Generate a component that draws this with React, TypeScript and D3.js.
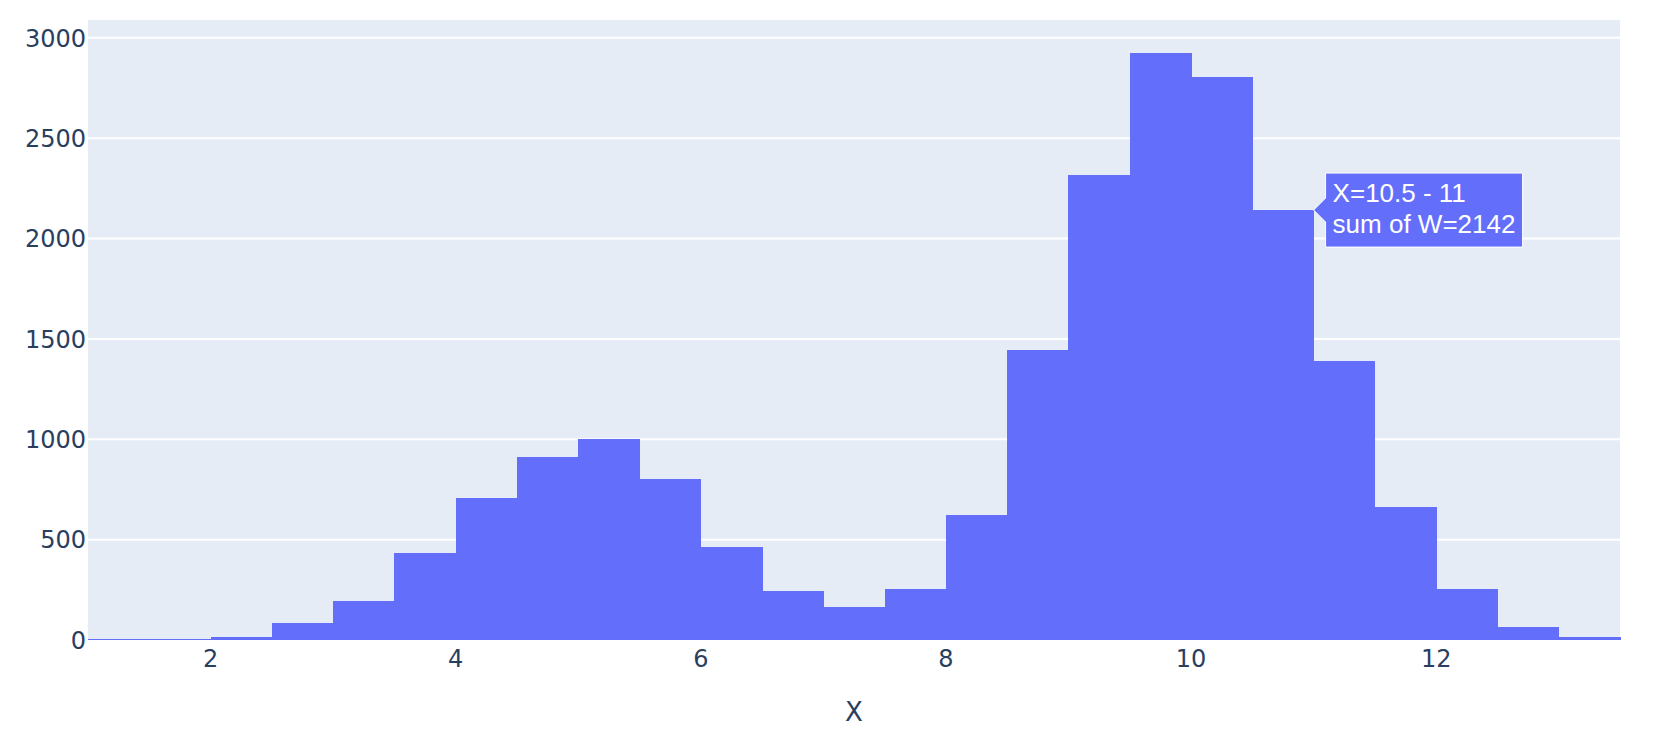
import * as d3 from "d3";
import React from "react";

// histogram bins (left edge), bin width 0.5
const binStarts = [1, 1.5, 2, 2.5, 3, 3.5, 4, 4.5, 5, 5.5, 6, 6.5, 7, 7.5, 8, 8.5, 9, 9.5, 10, 10.5, 11, 11.5, 12, 12.5, 13];
const binWidth = 0.5;
const sumOfW = [6, 7, 15, 85, 195, 432, 706, 911, 1002, 804, 463, 244, 164, 254, 623, 1443, 2317, 2925, 2805, 2142, 1390, 665, 255, 65, 15];

const xTicks = [2, 4, 6, 8, 10, 12];
const yTicks = [0, 500, 1000, 1500, 2000, 2500, 3000];

const hoverBin = 19;

const width = 1676;
const height = 736;
const plot = { left: 88, right: 1620, top: 20, bottom: 640 };

const tickFont = "'DejaVu Sans', Verdana, sans-serif";
const inkColor = "#2a3f5f";
const barColor = "#636efa";

const App: React.FC = () => {
    const x = d3.scaleLinear().domain([1, 13.5]).range([plot.left, plot.right]);
    const y = d3.scaleLinear().domain([0, 3089]).range([plot.bottom, plot.top]);

    const tx = x(binStarts[hoverBin] + binWidth);
    const ty = y(sumOfW[hoverBin]);
    const boxL = tx + 12;
    const boxR = boxL + 197;
    const boxT = ty - 37;
    const boxB = ty + 37;
    const tip = `M${tx},${ty} L${boxL},${ty - 12} V${boxT} H${boxR} V${boxB} H${boxL} V${ty + 12} Z`;

    return (
        <svg width={width} height={height} style={{ position: "absolute", left: 0, top: 0, background: "white" }}>
            <rect x={plot.left} y={plot.top} width={plot.right - plot.left} height={plot.bottom - plot.top} fill="#e5ecf6" />
            {yTicks.map(t => (
                <line key={"g" + t} x1={plot.left} x2={plot.right} y1={y(t)} y2={y(t)} stroke="white" strokeWidth={2} />
            ))}
            <g shapeRendering="crispEdges">
                {binStarts.map((b, i) => (
                    <rect key={b} x={x(b)} y={y(sumOfW[i])} width={x(b + binWidth) - x(b) + 0.5}
                        height={y(0) - y(sumOfW[i])} fill={barColor} />
                ))}
            </g>
            {yTicks.map(t => (
                <text key={"y" + t} x={plot.left - 2} y={y(t)} dy="0.36em" textAnchor="end"
                    fontFamily={tickFont} fontSize={24} fill={inkColor}>{t}</text>
            ))}
            {xTicks.map(t => (
                <text key={"x" + t} x={x(t)} y={667} textAnchor="middle"
                    fontFamily={tickFont} fontSize={24} fill={inkColor}>{t}</text>
            ))}
            <text x={(plot.left + plot.right) / 2} y={721} textAnchor="middle"
                fontFamily={tickFont} fontSize={26} fill={inkColor}>X</text>

            <g>
                <path d={tip} fill={barColor} stroke="white" strokeWidth={1} />
                <text x={boxL + 7} y={ty - 8} fontFamily="Arial, 'Liberation Sans', sans-serif" fontSize={26} fill="white">
                    X={binStarts[hoverBin]} - {binStarts[hoverBin] + binWidth}
                </text>
                <text x={boxL + 7} y={ty + 23} fontFamily="Arial, 'Liberation Sans', sans-serif" fontSize={26} fill="white">
                    sum of W={sumOfW[hoverBin]}
                </text>
            </g>
        </svg>
    );
};

export default App;
